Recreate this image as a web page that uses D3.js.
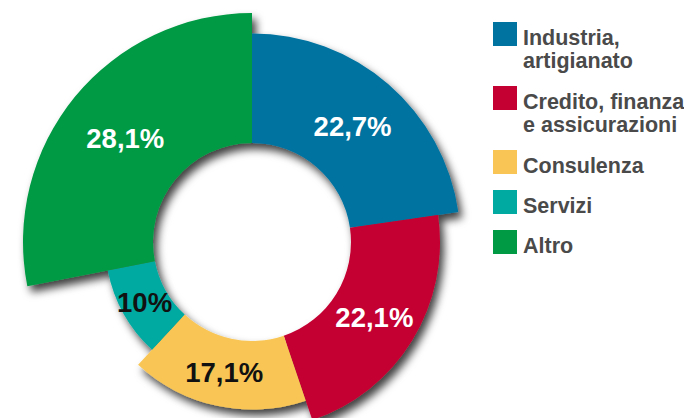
<!DOCTYPE html>
<html>
<head>
<meta charset="utf-8">
<script src="https://cdn.jsdelivr.net/npm/d3@7"></script>
<style>
  html, body { margin: 0; padding: 0; background: #fff; }
  svg { display: block; }
</style>
</head>
<body>
<svg id="chart"></svg>
<script>
// dati del grafico
const categories = ["Industria, artigianato", "Credito, finanza e assicurazioni", "Consulenza", "Servizi", "Altro"];
const legendLines = [["Industria,", "artigianato"], ["Credito, finanza", "e assicurazioni"], ["Consulenza"], ["Servizi"], ["Altro"]];
const values = [22.7, 22.1, 17.1, 10, 28.1];
const valueLabels = ["22,7%", "22,1%", "17,1%", "10%", "28,1%"];
const colors = ["#0073a0", "#c40032", "#f9c655", "#00aaa0", "#009a44"];
const labelColors = ["#fff", "#fff", "#111", "#111", "#fff"];

const width = 684, height = 418;
const cx = 252, cy = 242;
const innerR = 99;

const svg = d3.select("#chart")
  .attr("width", width)
  .attr("height", height);

// ombra
const defs = svg.append("defs");
const filter = defs.append("filter")
  .attr("id", "shadow")
  .attr("x", "-20%").attr("y", "-20%")
  .attr("width", "140%").attr("height", "140%");
filter.append("feDropShadow")
  .attr("dx", 4)
  .attr("dy", 6)
  .attr("stdDeviation", 4)
  .attr("flood-color", "#000")
  .attr("flood-opacity", 0.75);

// raggio esterno in base alla posizione (valore più alto = settore più grande)
const order = values.map((v, i) => i).sort((a, b) => values[b] - values[a]);
const rank = [];
order.forEach((idx, r) => { rank[idx] = r; });
const rScale = d3.scaleLinear().domain([0, categories.length - 1]).range([229, 147]);

const pie = d3.pie().sort(null).value(d => d);
const arcs = pie(values);

const arc = d3.arc()
  .innerRadius(innerR)
  .outerRadius(d => rScale(rank[d.index]));

const g = svg.append("g").attr("transform", `translate(${cx},${cy})`);

g.append("g")
  .attr("filter", "url(#shadow)")
  .selectAll("path")
  .data(arcs)
  .enter()
  .append("path")
  .attr("d", arc)
  .attr("fill", d => colors[d.index]);

g.selectAll("text.val")
  .data(arcs)
  .enter()
  .append("text")
  .attr("class", "val")
  .attr("transform", d => `translate(${arc.centroid(d)})`)
  .attr("text-anchor", "middle")
  .attr("dy", "0.36em")
  .attr("font-family", "'Liberation Sans', Arial, sans-serif")
  .attr("font-weight", "bold")
  .attr("font-size", 27.5)
  .attr("fill", d => labelColors[d.index])
  .text(d => valueLabels[d.index]);

// legenda
const legend = svg.append("g");
let y = 22;
legendLines.forEach((lines, i) => {
  legend.append("rect")
    .attr("x", 493)
    .attr("y", y)
    .attr("width", 24)
    .attr("height", 24)
    .attr("fill", colors[i]);
  const t = legend.append("text")
    .attr("font-family", "'Liberation Sans', Arial, sans-serif")
    .attr("font-weight", "bold")
    .attr("font-size", 21.5)
    .attr("fill", "#4a4a4a");
  lines.forEach((line, j) => {
    t.append("tspan")
      .attr("x", 523)
      .attr("y", y + 23 + j * 23)
      .text(line);
  });
  y += lines.length * 24 + 16;
});
</script>
</body>
</html>
